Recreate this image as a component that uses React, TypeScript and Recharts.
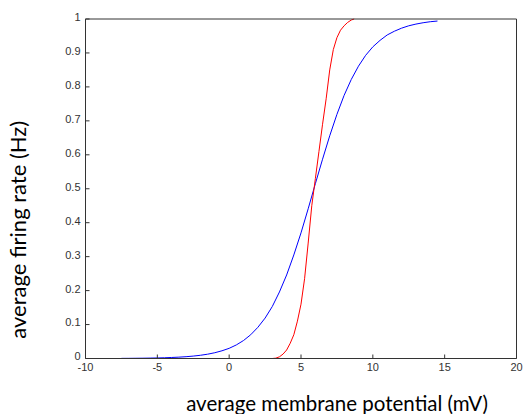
import { LineChart, Line, XAxis, YAxis, Label } from "recharts";

// membrane potential (mV) sample points for each curve
const blueX = [
  -7.5, -7, -6.5, -6, -5.5, -5, -4.5, -4, -3.5, -3, -2.5, -2, -1.5, -1, -0.5, 0,
  0.5, 1, 1.5, 2, 2.5, 3, 3.5, 4, 4.5, 5, 5.5, 6, 6.5, 7, 7.5, 8, 8.5, 9, 9.5,
  10, 10.5, 11, 11.5, 12, 12.5, 13, 13.5, 14, 14.5,
];
const blueRate = [
  0.0004, 0.0005, 0.0007, 0.0009, 0.0012, 0.0016, 0.0022, 0.003, 0.004, 0.0053,
  0.0071, 0.0095, 0.0127, 0.017, 0.0227, 0.03, 0.04, 0.053, 0.07, 0.092, 0.119,
  0.153, 0.196, 0.246, 0.305, 0.37, 0.441, 0.515, 0.587, 0.656, 0.719, 0.775,
  0.822, 0.861, 0.893, 0.918, 0.937, 0.953, 0.964, 0.973, 0.98, 0.985, 0.989,
  0.992, 0.994,
];

const redX = [
  2.2, 2.5, 2.75, 3, 3.25, 3.5, 3.75, 4, 4.25, 4.5, 4.75, 5, 5.25, 5.5, 5.75, 6,
  6.25, 6.5, 6.75, 7, 7.25, 7.5, 7.75, 8, 8.25, 8.5, 8.7,
];
const redRate = [
  0, 0, 0, 0, 0.001, 0.005, 0.013, 0.025, 0.045, 0.07, 0.11, 0.16, 0.235, 0.34,
  0.45, 0.53, 0.61, 0.69, 0.765, 0.85, 0.91, 0.945, 0.967, 0.98, 0.99, 0.997, 1,
];

const xTicks = [-10, -5, 0, 5, 10, 15, 20];
const yTicks = [0, 0.1, 0.2, 0.3, 0.4, 0.5, 0.6, 0.7, 0.8, 0.9, 1];

const blueData = blueX.map((v, i) => ({ v, rate: blueRate[i] }));
const redData = redX.map((v, i) => ({ v, rate: redRate[i] }));

const axisColor = "#333";
const tickStyle = { fill: "#333", fontSize: 11, fontFamily: "Liberation Sans, Arial, sans-serif" };
const labelFont = "Lato, sans-serif";

export default function App() {
  return (
    <>
      <style>{`body{margin:0}`}</style>
      <LineChart
        width={523}
        height={414}
        margin={{ top: 18, right: 5.5, bottom: 25.5, left: 10.5 }}
      >
        <XAxis
          xAxisId="b"
          dataKey="v"
          type="number"
          domain={[-10, 20]}
          ticks={xTicks}
          allowDataOverflow
          height={30}
          stroke={axisColor}
          tickSize={-4}
          tickMargin={9}
          tick={tickStyle}
        >
          <Label
            value="average membrane potential (mV)"
            position="bottom"
            offset={0}
            dy={8}
            dx={36}
            style={{ fill: "#000", fontSize: 20.5, fontFamily: labelFont }}
          />
        </XAxis>
        <XAxis
          xAxisId="t"
          dataKey="v"
          type="number"
          orientation="top"
          domain={[-10, 20]}
          ticks={xTicks}
          height={1}
          stroke={axisColor}
          tickSize={-4}
          tickFormatter={() => ""}
        />
        <YAxis
          yAxisId="l"
          type="number"
          domain={[0, 1]}
          ticks={yTicks}
          width={75}
          stroke={axisColor}
          tickSize={-4}
          tickMargin={9}
          tick={{ ...tickStyle, dy: -2 }}
        >
          <Label
            value="average firing rate (Hz)"
            angle={-90}
            position="center"
            dx={-30}
            dy={41}
            style={{ fill: "#000", fontSize: 22, fontFamily: labelFont }}
          />
        </YAxis>
        <YAxis
          yAxisId="r"
          type="number"
          orientation="right"
          domain={[0, 1]}
          ticks={yTicks}
          width={1}
          stroke={axisColor}
          tickSize={-4}
          tickFormatter={() => ""}
        />
        <Line
          xAxisId="b"
          yAxisId="l"
          data={blueData}
          dataKey="rate"
          type="linear"
          stroke="#0000ff"
          strokeWidth={1}
          dot={false}
          isAnimationActive={false}
        />
        <Line
          xAxisId="b"
          yAxisId="l"
          data={redData}
          dataKey="rate"
          type="linear"
          stroke="#ff0000"
          strokeWidth={1}
          dot={false}
          isAnimationActive={false}
        />
      </LineChart>
    </>
  );
}
